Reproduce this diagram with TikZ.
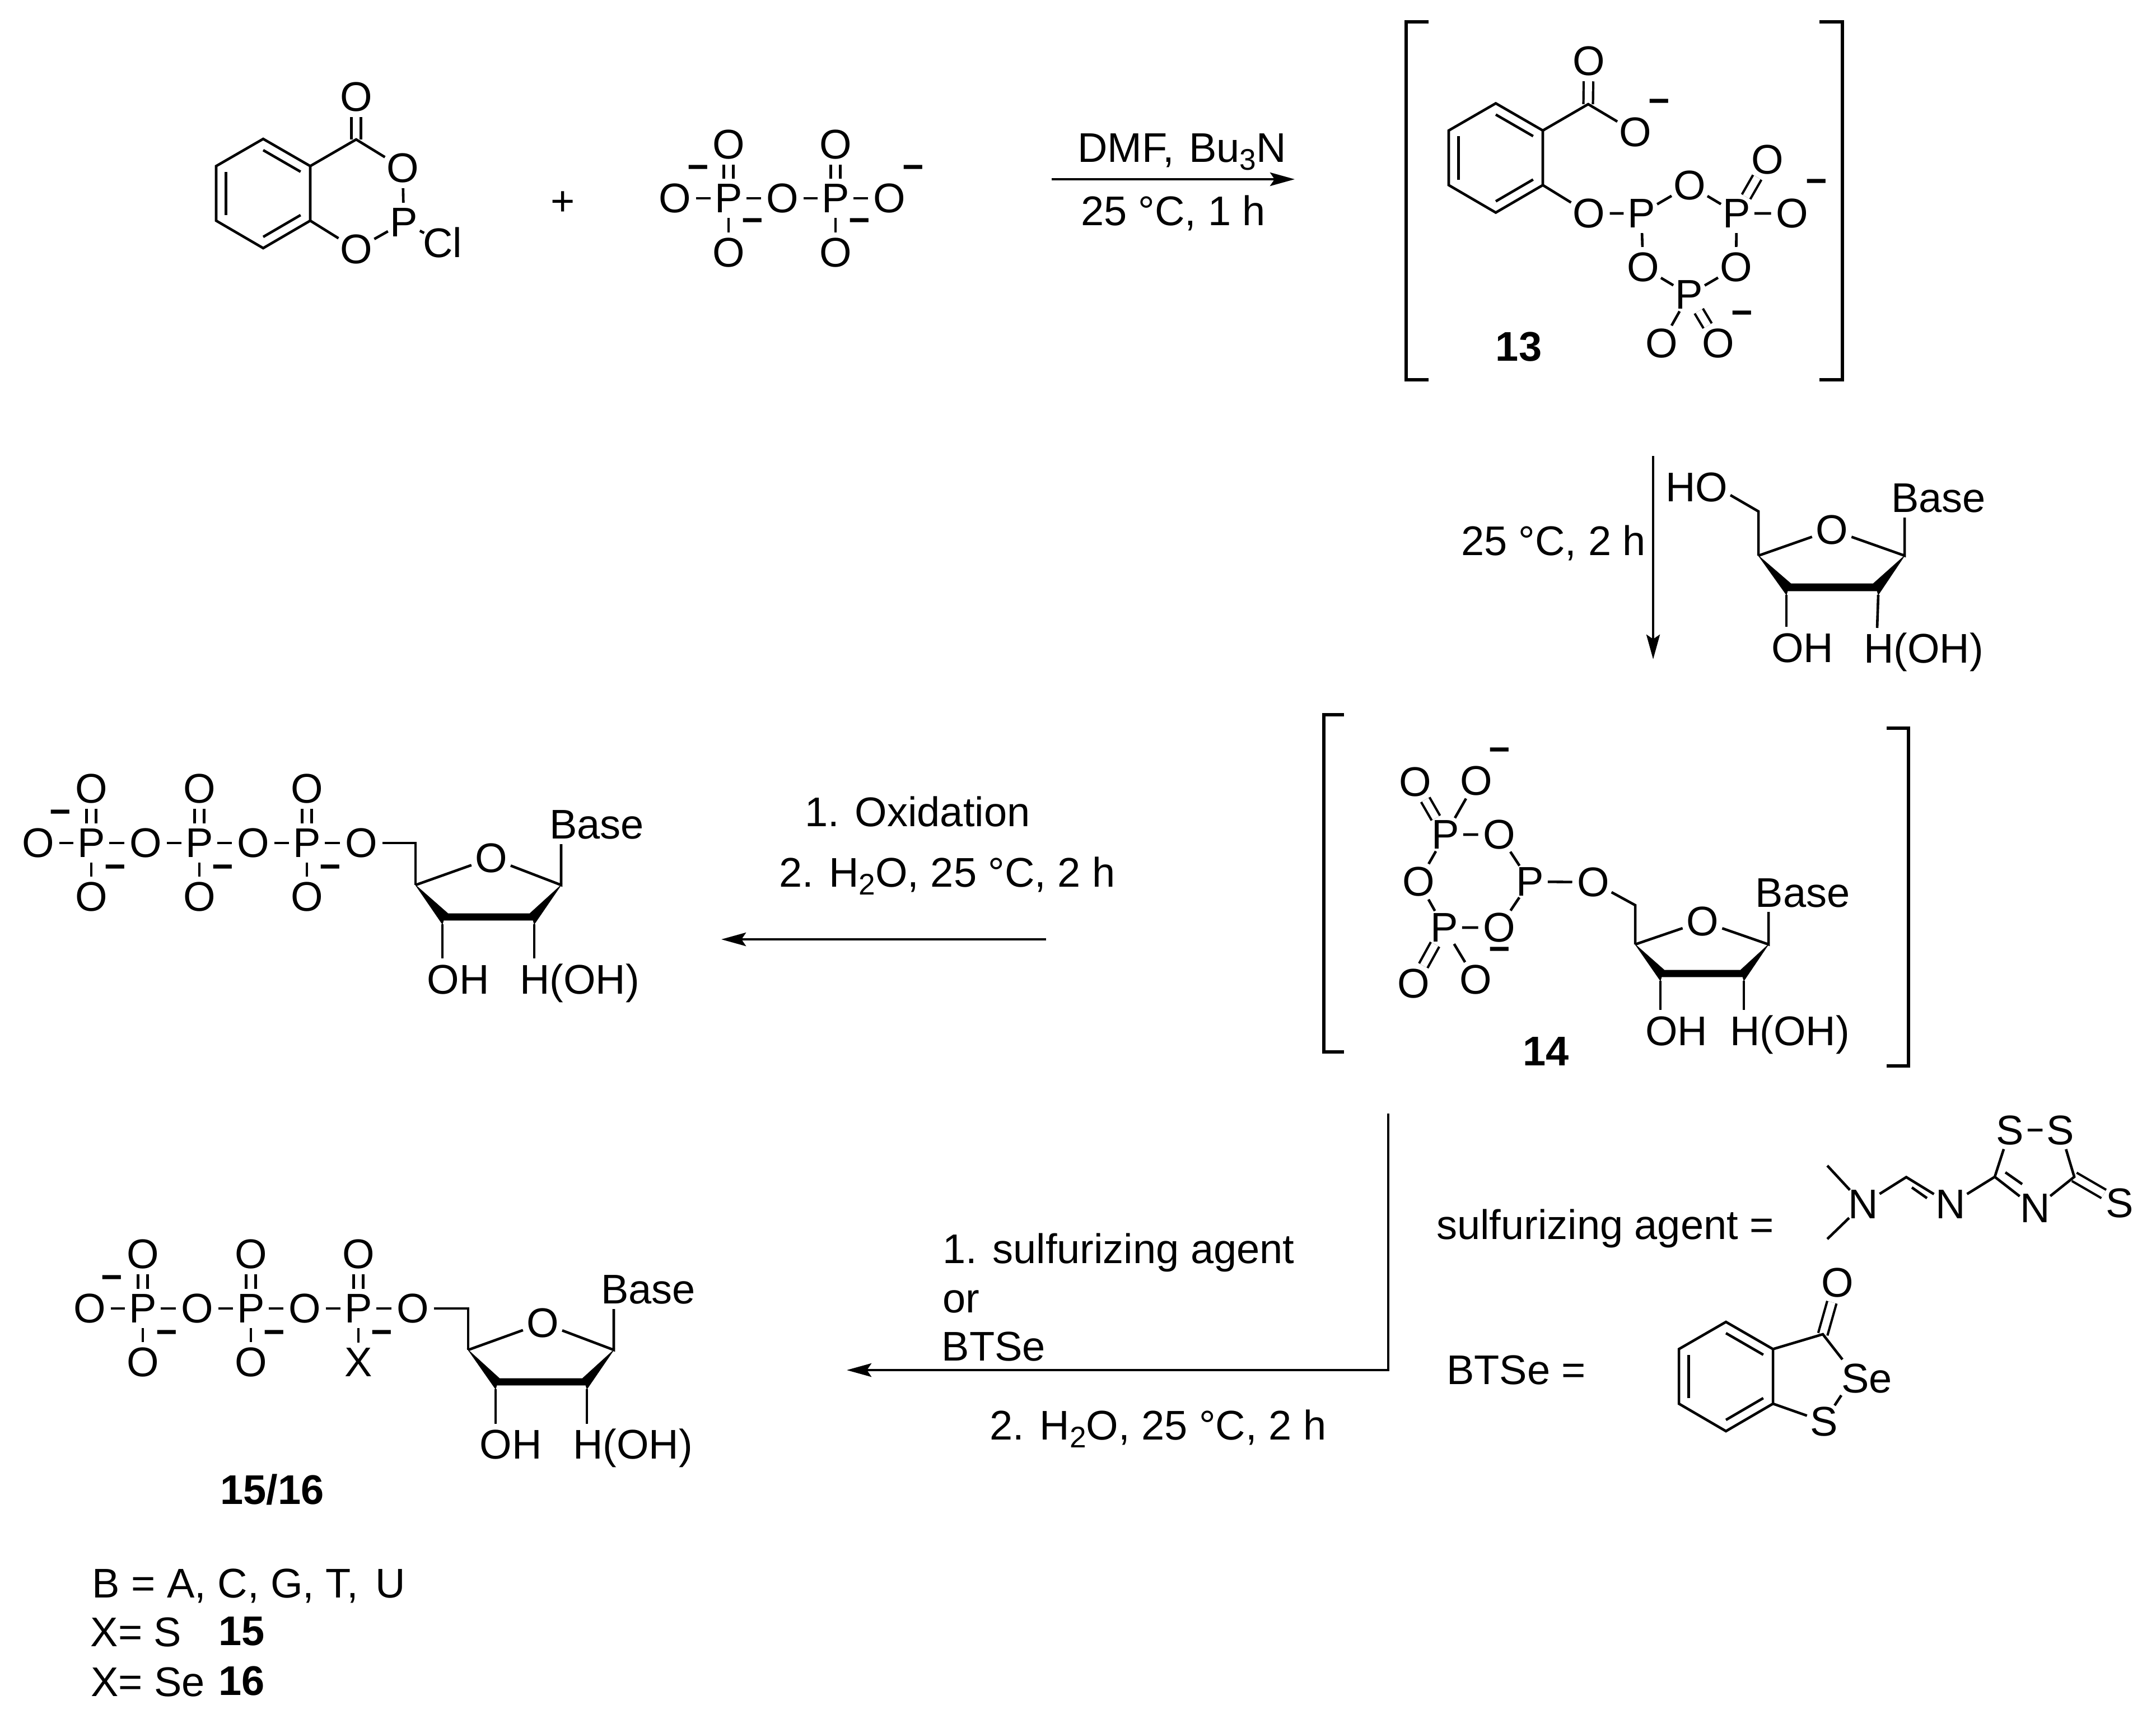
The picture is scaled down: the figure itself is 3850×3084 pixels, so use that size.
\documentclass[tikz,border=0pt]{standalone}
\usepackage{fontspec}
\setmainfont{Liberation Sans}
\usetikzlibrary{shapes.geometric,arrows.meta,calc}
\tikzset{
  bond/.style={line width=1.15pt,line cap=butt,line join=miter},
  dbl/.style={line width=1.05pt,double,double distance=3.2pt},
  rxn/.style={line width=1.15pt,-{Stealth[length=11pt,width=6pt,inset=2pt]}},
  brk/.style={line width=1.3pt},
  atom/.style={ellipse,inner xsep=-0.7pt,inner ysep=-0.3pt,font=\fontsize{18.5pt}{22pt}\selectfont},
  wideatom/.style={atom,inner xsep=-2.4pt},
  lab/.style={anchor=base,inner sep=0pt,font=\fontsize{18.5pt}{22pt}\selectfont},
  boldlab/.style={lab,font=\fontsize{18.5pt}{22pt}\selectfont\bfseries},
  mns/.style={inner sep=0pt,font=\fontsize{16.5pt}{20pt}\selectfont\bfseries},
  wedge/.style={fill=black,draw=black,line width=0.2pt,line join=miter}
}
\newcommand\Atm[4]{\node[atom] (#1) at (#2,#3) {#4};}
\newcommand\Lab[4]{\node[lab] (#1) at (#2,#3) {#4};}
\newcommand\Mns[3]{\node[mns] (#1) at (#2,#3) {−};}
\newcommand\sbs[1]{\raisebox{-3.5pt}{\fontsize{13.3pt}{14pt}\selectfont #1}}
% benzene from its centre: vertices 1 top, 2 upper right, 3 lower right, 4 bottom, 5 lower left, 6 upper left
\newcommand\Benz[3]{%
  \coordinate (#1c) at (#2,#3);
  \coordinate (#11) at (#2,{#3-97.5});
  \coordinate (#12) at ({#2+84},{#3-49});
  \coordinate (#13) at ({#2+84},{#3+48.5});
  \coordinate (#14) at (#2,{#3+97.5});
  \coordinate (#15) at ({#2-84},{#3+48.5});
  \coordinate (#16) at ({#2-84},{#3-49});
  \draw[bond] (#11)--(#12)--(#13)--(#14)--(#15)--(#16)--cycle;
  \draw[bond] ($(#11)!.206!(#1c)$)--($(#12)!.206!(#1c)$);
  \draw[bond] ($(#13)!.206!(#1c)$)--($(#14)!.206!(#1c)$);
  \draw[bond] ($(#15)!.206!(#1c)$)--($(#16)!.206!(#1c)$);
}
% sugar ring drawn from named points
\newcommand\Sugar[1]{%
  \fill[wedge] (#1c4)--(#1a)--(#1b)--(#1c1)--(#1c)--(#1e)--(#1f)--(#1d)--cycle;
  \draw[bond] (#1c4)--(#1o)--(#1c1)--(#1bt);
  \draw[bond] (#1d)--(#1oh);
  \draw[bond] (#1c)--(#1hh);
}
% triphosphate chain; #1 prefix, #2 #3 shift, #4 atom under the third P
\newcommand\Triph[4]{%
  \begin{scope}[shift={(#2,#3)}]
  \Atm{#1o1}{68}{1505}{O}\Atm{#1p1}{163}{1505}{P}\Atm{#1o2}{260}{1505}{O}\Atm{#1p2}{356}{1505}{P}
  \Atm{#1o3}{452}{1505}{O}\Atm{#1p3}{548}{1505}{P}\Atm{#1o4}{645}{1505}{O}
  \Atm{#1u1}{163}{1408}{O}\Atm{#1u2}{356}{1408}{O}\Atm{#1u3}{548}{1408}{O}
  \Atm{#1l1}{163}{1601}{O}\Atm{#1l2}{356}{1601}{O}\Atm{#1l3}{548}{1601}{#4}
  \Mns{#1m0}{108}{1459}\Mns{#1m1}{206}{1557}\Mns{#1m2}{398}{1557}\Mns{#1m3}{590}{1557}
  \draw[bond] (#1o1)--(#1p1)--(#1o2)--(#1p2)--(#1o3)--(#1p3)--(#1o4);
  \draw[bond] (#1p1)--(#1l1) (#1p2)--(#1l2) (#1p3)--(#1l3);
  \draw[dbl] (#1p1)--(#1u1);\draw[dbl] (#1p2)--(#1u2);\draw[dbl] (#1p3)--(#1u3);
  \end{scope}
}
\begin{document}
\begin{tikzpicture}[x=0.25pt,y=-0.25pt]
\useasboundingbox (0,0) rectangle (3850,3084);
\fill[white] (0,0) rectangle (3850,3084);

% ---------- chlorophosphite
\Benz{ba}{470}{345.5}
\coordinate (baC) at (636,249);
\Atm{baO1}{636}{173}{O}
\Atm{baO2}{719}{300}{O}
\Atm{baP}{721}{397}{P}
\Atm{baO3}{636}{445}{O}
\node[wideatom] (baCl) at (790,433) {Cl};
\draw[dbl] (baC)--(baO1);
\draw[bond] (ba2)--(baC)--(baO2)--(baP)--(baO3)--(ba3);
\draw[bond] (baP)--(baCl);
\Lab{plus}{1005}{384}{+}

% ---------- pyrophosphate
\Atm{ppO1}{1205}{354}{O}\Atm{ppP1}{1301}{354}{P}\Atm{ppO2}{1397}{354}{O}\Atm{ppP2}{1492}{354}{P}\Atm{ppO3}{1588}{354}{O}
\Atm{ppU1}{1301}{258}{O}\Atm{ppU2}{1492}{258}{O}\Atm{ppL1}{1301}{451}{O}\Atm{ppL2}{1492}{451}{O}
\Mns{ppM1}{1247}{308}\Mns{ppM2}{1631}{308}\Mns{ppM3}{1344}{403}\Mns{ppM4}{1535}{403}
\draw[bond] (ppO1)--(ppP1)--(ppO2)--(ppP2)--(ppO3);
\draw[bond] (ppP1)--(ppL1) (ppP2)--(ppL2);
\draw[dbl] (ppP1)--(ppU1);\draw[dbl] (ppP2)--(ppU2);

% ---------- arrow 1
\coordinate (a1s) at (1878,320);\coordinate (a1e) at (2312,320);
\draw[rxn] (a1s)--(a1e);
\Lab{t1}{2110.5}{289}{DMF,\hspace{1.5pt} Bu\sbs{3}N}
\Lab{t2}{2095}{402}{25 °C, 1 h}

% ---------- 13
\coordinate (bk1a) at (2551,39);\coordinate (bk1b) at (2511,39);\coordinate (bk1c) at (2511,678);\coordinate (bk1d) at (2551,678);
\coordinate (bk2a) at (3249,39);\coordinate (bk2b) at (3290,39);\coordinate (bk2c) at (3290,678);\coordinate (bk2d) at (3249,678);
\draw[brk] (bk1a)--(bk1b)--(bk1c)--(bk1d);
\draw[brk] (bk2a)--(bk2b)--(bk2c)--(bk2d);
\Benz{bb}{2671}{282}
\coordinate (bbC) at (2836,186);
\Atm{bbO1}{2837}{109}{O}\Atm{bbO2}{2920}{236}{O}\Mns{bbM1}{2963}{190}
\Atm{bbO3}{2837}{381}{O}\Atm{bbP1}{2931}{381}{P}\Atm{bbO4}{3017}{331}{O}\Atm{bbP2}{3101}{381}{P}
\Atm{bbO5}{3156}{285}{O}\Atm{bbO6}{3200}{381}{O}\Mns{bbM2}{3244}{333}
\Atm{bbO7}{2934}{477}{O}\Atm{bbO8}{3100}{477}{O}\Atm{bbP3}{3016}{526}{P}
\Atm{bbO9}{2967}{613}{O}\Atm{bbO10}{3068}{613}{O}\Mns{bbM3}{3111}{568}
\draw[dbl] (bbC)--(bbO1);
\draw[bond] (bb2)--(bbC)--(bbO2);
\draw[bond] (bb3)--(bbO3)--(bbP1)--(bbO4)--(bbP2)--(bbO8)--(bbP3)--(bbO7)--(bbP1);
\draw[bond] (bbP2)--(bbO6) (bbP3)--(bbO9);
\draw[dbl] (bbP2)--(bbO5);\draw[dbl] (bbP3)--(bbO10);
\node[boldlab] (n13) at (2712,644) {13};

% ---------- arrow 2 and nucleoside
\coordinate (a2s) at (2952,814);\coordinate (a2e) at (2952,1177);
\draw[rxn] (a2s)--(a2e);
\Lab{t3}{2774}{991}{25 °C, 2 h}
\coordinate (s1c4) at (3140,992);\coordinate (s1a) at (3198,1042);\coordinate (s1b) at (3345,1042);\coordinate (s1c1) at (3401,992);
\coordinate (s1c) at (3354,1062);\coordinate (s1e) at (3352,1055);\coordinate (s1f) at (3192,1055);\coordinate (s1d) at (3190,1062);
\coordinate (s1oh) at (3190,1119);\coordinate (s1hh) at (3352,1121);\coordinate (s1bt) at (3401,924);
\coordinate (s1ch) at (3140,913);\coordinate (s1hoe) at (3090,884);
\Atm{s1o}{3271}{946}{O}
\Sugar{s1}
\draw[bond] (s1hoe)--(s1ch)--(s1c4);
\Lab{s1ho}{3029.5}{895}{HO}
\Lab{s1base}{3461.5}{914}{Base}
\Lab{s1ohl}{3218.5}{1182}{OH}
\Lab{s1hl}{3435}{1183}{H(OH)}

% ---------- 14
\coordinate (bk3a) at (2400,1276);\coordinate (bk3b) at (2364,1276);\coordinate (bk3c) at (2364,1878);\coordinate (bk3d) at (2400,1878);
\coordinate (bk4a) at (3369,1300);\coordinate (bk4b) at (3408,1300);\coordinate (bk4c) at (3408,1903);\coordinate (bk4d) at (3369,1903);
\draw[brk] (bk3a)--(bk3b)--(bk3c)--(bk3d);
\draw[brk] (bk4a)--(bk4b)--(bk4c)--(bk4d);
\Atm{cO1}{2527}{1396}{O}\Atm{cO2}{2636}{1394}{O}\Mns{cM1}{2678}{1348}
\Atm{cP1}{2581}{1490}{P}\Atm{cO3}{2677}{1490}{O}\Atm{cO4}{2533}{1574}{O}\Atm{cP2}{2732}{1574}{P}\Atm{cO5}{2845}{1575}{O}
\Atm{cP3}{2579}{1656}{P}\Atm{cO6}{2677}{1656}{O}\Mns{cM2}{2678}{1704}
\Atm{cO7}{2524}{1756}{O}\Atm{cO8}{2635}{1749}{O}
\draw[dbl] (cP1)--(cO1);\draw[dbl] (cP3)--(cO7);
\draw[bond] (cP1)--(cO2) (cP3)--(cO8);
\draw[bond] (cP1)--(cO3)--(cP2)--(cO6)--(cP3)--(cO4)--(cP1);
\draw[bond] (cP2)--(cO5);
\coordinate (s2c4) at (2920,1686);\coordinate (s2a) at (2972,1732);\coordinate (s2b) at (3108,1732);\coordinate (s2c1) at (3158,1686);
\coordinate (s2c) at (3114,1751);\coordinate (s2e) at (3112,1744);\coordinate (s2f) at (2967,1744);\coordinate (s2d) at (2965,1751);
\coordinate (s2oh) at (2965,1803);\coordinate (s2hh) at (3114,1803);\coordinate (s2bt) at (3158,1628);\coordinate (s2ch) at (2920,1616);
\Atm{s2o}{3040}{1645}{O}
\Sugar{s2}
\draw[bond] (cO5)--(s2ch)--(s2c4);
\Lab{s2base}{3219}{1619}{Base}
\Lab{s2ohl}{2993.5}{1866}{OH}
\Lab{s2hl}{3196}{1866}{H(OH)}
\node[boldlab] (n14) at (2760.5,1902) {14};

% ---------- arrow 3 and NTP
\coordinate (a3s) at (1868,1677);\coordinate (a3e) at (1288,1677);
\draw[rxn] (a3s)--(a3e);
\Lab{t4}{1638.5}{1475}{1. Oxidation}
\Lab{t5}{1691.5}{1583}{2. H\sbs{2}O, 25 °C, 2 h}
\Triph{tp}{0}{0}{O}
\coordinate (s3c4) at (742,1580);\coordinate (s3a) at (800,1631);\coordinate (s3b) at (946,1631);\coordinate (s3c1) at (1002,1580);
\coordinate (s3c) at (954,1650);\coordinate (s3e) at (952,1643);\coordinate (s3f) at (792,1643);\coordinate (s3d) at (790,1650);
\coordinate (s3oh) at (790,1711);\coordinate (s3hh) at (954,1711);\coordinate (s3bt) at (1002,1507);\coordinate (s3ch) at (742,1505);
\Atm{s3o}{877}{1532}{O}
\Sugar{s3}
\draw[bond] (tpo4)--(s3ch)--(s3c4);
\Lab{s3base}{1065.5}{1497}{Base}
\Lab{s3ohl}{818}{1774}{OH}
\Lab{s3hl}{1035}{1774}{H(OH)}

% ---------- arrow 4 and thio product
\coordinate (a4s) at (2479,1988);\coordinate (a4m) at (2479,2446);\coordinate (a4e) at (1512,2446);
\draw[rxn] (a4s)--(a4m)--(a4e);
\Lab{t6}{1997.5}{2255}{1. sulfurizing agent}
\Lab{t7}{1716}{2343}{or}
\Lab{t8}{1774.5}{2429}{BTSe}
\Lab{t9}{2068}{2570}{2. H\sbs{2}O, 25 °C, 2 h}
\Triph{tq}{92}{831}{X}
\coordinate (s4c4) at (836,2410);\coordinate (s4a) at (892,2461);\coordinate (s4b) at (1040,2461);\coordinate (s4c1) at (1096,2410);
\coordinate (s4c) at (1048,2480);\coordinate (s4e) at (1046,2473);\coordinate (s4f) at (887,2473);\coordinate (s4d) at (885,2480);
\coordinate (s4oh) at (885,2542);\coordinate (s4hh) at (1048,2542);\coordinate (s4bt) at (1096,2337);\coordinate (s4ch) at (836,2336);
\Atm{s4o}{969}{2362}{O}
\Sugar{s4}
\draw[bond] (tqo4)--(s4ch)--(s4c4);
\Lab{s4base}{1157.5}{2327}{Base}
\Lab{s4ohl}{912}{2604}{OH}
\Lab{s4hl}{1130}{2604}{H(OH)}
\node[boldlab] (n1516) at (486,2685) {15/16};
\Lab{b1}{444}{2852}{B = A, C, G, T,\hspace{2.5pt} U}
\Lab{b2}{243}{2939}{X= S}
\node[boldlab] (n15) at (431.5,2937) {15};
\Lab{b3}{264}{3028}{X= Se}
\node[boldlab] (n16) at (431.5,3026) {16};

% ---------- sulfurizing agent
\Lab{sa}{2866.5}{2212}{sulfurizing agent =}
\coordinate (me1) at (3263,2081);\coordinate (me2) at (3263,2212);
\coordinate (saCH) at (3404,2101.5);\coordinate (saC1) at (3562,2101);\coordinate (saC2) at (3704,2101);
\coordinate (saI1a) at (3414,2120);\coordinate (saI1b) at (3441,2139);
\coordinate (saI2a) at (3581,2093);\coordinate (saI2b) at (3611,2114);
\Atm{saN1}{3327}{2150}{N}\Atm{saN2}{3483}{2150}{N}\Atm{saN3}{3634}{2157}{N}
\Atm{saS1}{3589}{2017.5}{S}\Atm{saS2}{3679}{2017.5}{S}\Atm{saS3}{3785}{2148}{S}
\draw[dbl] (saC2)--(saS3);
\draw[bond] (me1)--(saN1)--(me2);
\draw[bond] (saN1)--(saCH)--(saN2)--(saC1)--(saN3)--(saC2)--(saS2)--(saS1)--(saC1);
\draw[bond] (saI1a)--(saI1b);
\draw[bond] (saI2a)--(saI2b);

% ---------- BTSe
\Lab{bt}{2707.5}{2471}{BTSe =}
\Benz{bc}{3082}{2457.5}
\coordinate (bcC) at (3255,2382);
\Atm{bcO}{3281}{2290}{O}
\draw[dbl] (bcC)--(bcO);
\Lab{bcSe}{3333.5}{2486}{Se}
\Atm{bcS}{3257}{2538}{S}
\coordinate (seT) at (3290,2427);\coordinate (seB) at (3288,2491);
\draw[bond] (bc2)--(bcC)--(seT);
\draw[bond] (seB)--(bcS)--(bc3);
\end{tikzpicture}
\end{document}
